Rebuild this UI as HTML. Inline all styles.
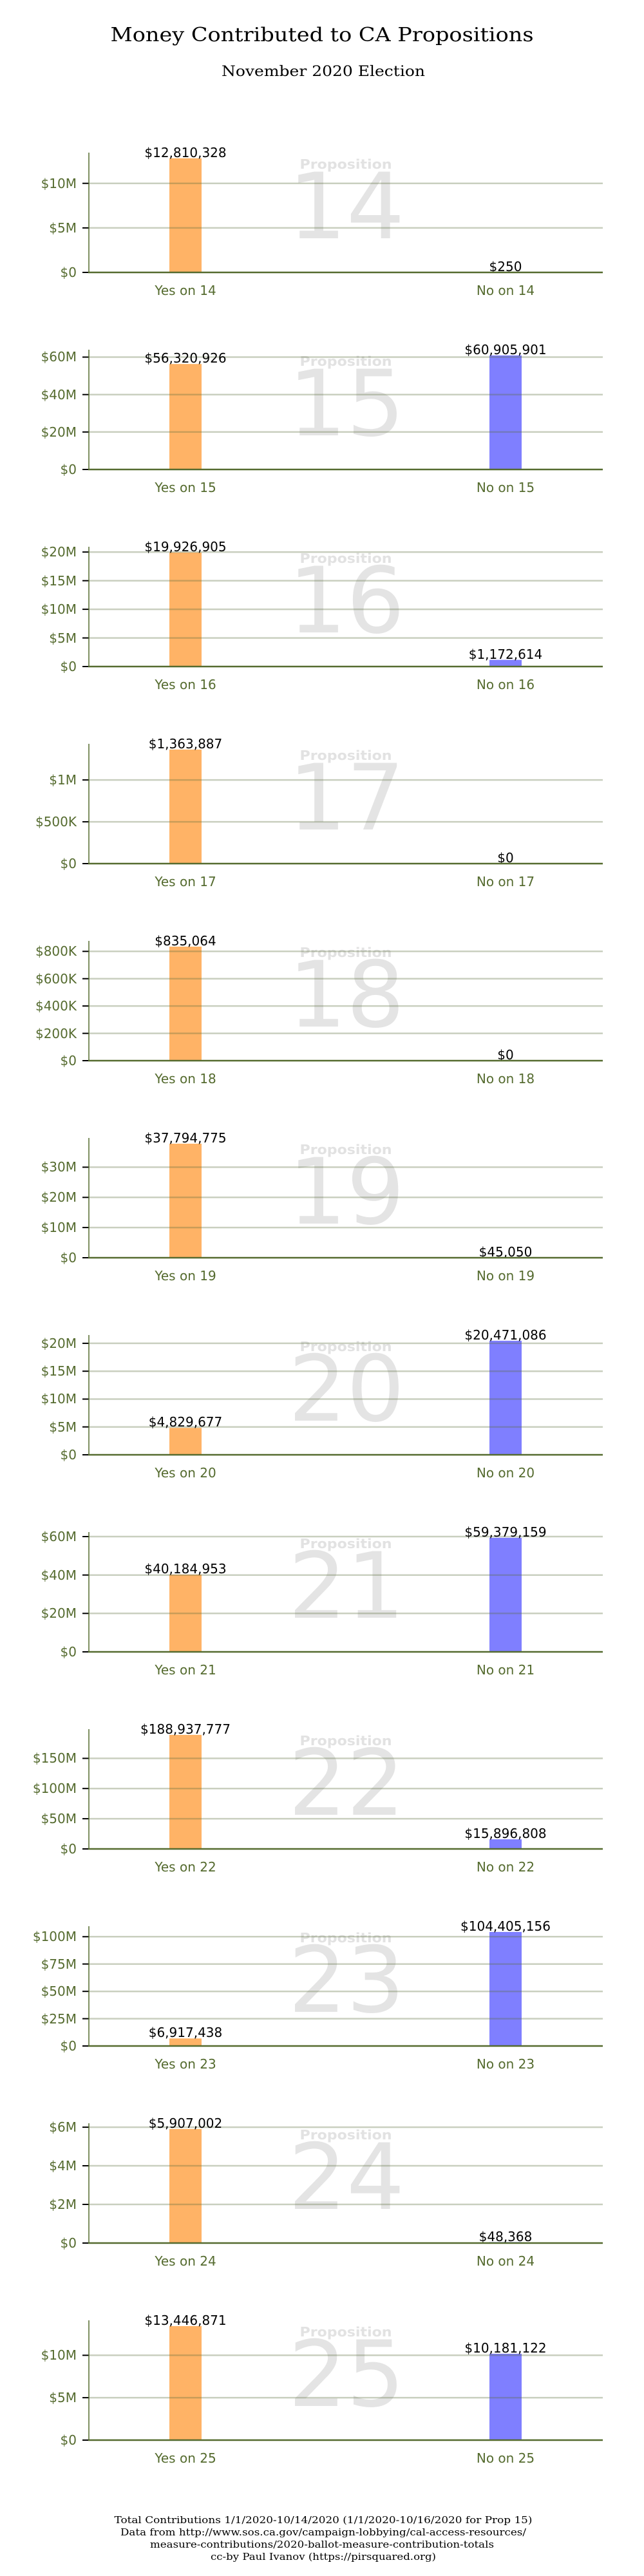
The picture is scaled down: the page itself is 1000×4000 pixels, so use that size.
<!DOCTYPE html>
<html><head><meta charset="utf-8"><style>
html,body{margin:0;padding:0;background:#fff}
svg{display:block}
.t{font-family:"DejaVu Sans","Liberation Sans",sans-serif}
.yl{font-size:20px;fill:#556b2f;text-anchor:end}
.xl{font-size:20px;fill:#556b2f;text-anchor:middle}
.vl{font-size:20px;fill:#000;text-anchor:middle}
.pp{font-size:20px;font-weight:bold;fill:#e2e2e2;text-anchor:middle}
.pn{font-size:142px;fill:#e4e4e4;text-anchor:middle}
.g{stroke:rgba(90,110,60,0.33);stroke-width:2.5}
.tk{stroke:#000;stroke-width:2}
.ax{stroke:#556b2f}
.y{fill:#ffb366}.n{fill:#7f7fff}
.s{font-family:"DejaVu Serif","Liberation Serif",serif;fill:#000;text-anchor:middle}
</style></head><body>
<svg width="1000" height="4000" viewBox="0 0 1000 4000" xmlns="http://www.w3.org/2000/svg">
<text class="s" x="500" y="64" font-size="30" textLength="657" lengthAdjust="spacingAndGlyphs">Money Contributed to CA Propositions</text>
<text class="s" x="502" y="118" font-size="22" textLength="316" lengthAdjust="spacingAndGlyphs">November 2020 Election</text>

<!-- panel template: translate(0,y0) -->
<g transform="translate(0,423)" class="t">
<text class="pp" x="537" y="-161" textLength="143" lengthAdjust="spacingAndGlyphs">Proposition</text>
<text class="pn" x="538" y="-53">14</text>
<rect class="y" x="263" y="-177.2" width="50" height="177.2"/>
<line class="g" x1="138" x2="936" y1="-69.1" y2="-69.1"/><line class="g" x1="138" x2="936" y1="-138.3" y2="-138.3"/>
<line class="tk" x1="128" x2="138" y1="0" y2="0"/><line class="tk" x1="128" x2="138" y1="-69.1" y2="-69.1"/><line class="tk" x1="128" x2="138" y1="-138.3" y2="-138.3"/>
<text class="yl" x="119" y="7">$0</text><text class="yl" x="119" y="-62">$5M</text><text class="yl" x="119" y="-131">$10M</text>
<text class="vl" x="288" y="-179">$12,810,328</text><text class="vl" x="785" y="-2">$250</text>
<line class="ax" x1="138" x2="138" y1="-186" y2="0" stroke-width="1.5"/><line class="ax" x1="137" x2="936" y1="0" y2="0" stroke-width="2.5"/>
<text class="xl" x="288" y="35">Yes on 14</text><text class="xl" x="785" y="35">No on 14</text>
</g>

<g transform="translate(0,729)" class="t">
<text class="pp" x="537" y="-161" textLength="143" lengthAdjust="spacingAndGlyphs">Proposition</text>
<text class="pn" x="538" y="-53">15</text>
<rect class="y" x="263" y="-163.8" width="50" height="163.8"/><rect class="n" x="760" y="-177.1" width="50" height="177.1"/>
<line class="g" x1="138" x2="936" y1="-58.2" y2="-58.2"/><line class="g" x1="138" x2="936" y1="-116.3" y2="-116.3"/><line class="g" x1="138" x2="936" y1="-174.5" y2="-174.5"/>
<line class="tk" x1="128" x2="138" y1="0" y2="0"/><line class="tk" x1="128" x2="138" y1="-58.2" y2="-58.2"/><line class="tk" x1="128" x2="138" y1="-116.3" y2="-116.3"/><line class="tk" x1="128" x2="138" y1="-174.5" y2="-174.5"/>
<text class="yl" x="119" y="7">$0</text><text class="yl" x="119" y="-51">$20M</text><text class="yl" x="119" y="-109">$40M</text><text class="yl" x="119" y="-168">$60M</text>
<text class="vl" x="288" y="-166">$56,320,926</text><text class="vl" x="785" y="-179">$60,905,901</text>
<line class="ax" x1="138" x2="138" y1="-186" y2="0" stroke-width="1.5"/><line class="ax" x1="137" x2="936" y1="0" y2="0" stroke-width="2.5"/>
<text class="xl" x="288" y="35">Yes on 15</text><text class="xl" x="785" y="35">No on 15</text>
</g>

<g transform="translate(0,1035)" class="t">
<text class="pp" x="537" y="-161" textLength="143" lengthAdjust="spacingAndGlyphs">Proposition</text>
<text class="pn" x="538" y="-53">16</text>
<rect class="y" x="263" y="-177.1" width="50" height="177.1"/><rect class="n" x="760" y="-10.4" width="50" height="10.4"/>
<line class="g" x1="138" x2="936" y1="-44.4" y2="-44.4"/><line class="g" x1="138" x2="936" y1="-88.9" y2="-88.9"/><line class="g" x1="138" x2="936" y1="-133.3" y2="-133.3"/><line class="g" x1="138" x2="936" y1="-177.8" y2="-177.8"/>
<line class="tk" x1="128" x2="138" y1="0" y2="0"/><line class="tk" x1="128" x2="138" y1="-44.4" y2="-44.4"/><line class="tk" x1="128" x2="138" y1="-88.9" y2="-88.9"/><line class="tk" x1="128" x2="138" y1="-133.3" y2="-133.3"/><line class="tk" x1="128" x2="138" y1="-177.8" y2="-177.8"/>
<text class="yl" x="119" y="7">$0</text><text class="yl" x="119" y="-37">$5M</text><text class="yl" x="119" y="-82">$10M</text><text class="yl" x="119" y="-126">$15M</text><text class="yl" x="119" y="-171">$20M</text>
<text class="vl" x="288" y="-179">$19,926,905</text><text class="vl" x="785" y="-12">$1,172,614</text>
<line class="ax" x1="138" x2="138" y1="-186" y2="0" stroke-width="1.5"/><line class="ax" x1="137" x2="936" y1="0" y2="0" stroke-width="2.5"/>
<text class="xl" x="288" y="35">Yes on 16</text><text class="xl" x="785" y="35">No on 16</text>
</g>

<g transform="translate(0,1341)" class="t">
<text class="pp" x="537" y="-161" textLength="143" lengthAdjust="spacingAndGlyphs">Proposition</text>
<text class="pn" x="538" y="-53">17</text>
<rect class="y" x="263" y="-177.1" width="50" height="177.1"/>
<line class="g" x1="138" x2="936" y1="-64.9" y2="-64.9"/><line class="g" x1="138" x2="936" y1="-129.9" y2="-129.9"/>
<line class="tk" x1="128" x2="138" y1="0" y2="0"/><line class="tk" x1="128" x2="138" y1="-64.9" y2="-64.9"/><line class="tk" x1="128" x2="138" y1="-129.9" y2="-129.9"/>
<text class="yl" x="119" y="7">$0</text><text class="yl" x="119" y="-58">$500K</text><text class="yl" x="119" y="-123">$1M</text>
<text class="vl" x="288" y="-179">$1,363,887</text><text class="vl" x="785" y="-2">$0</text>
<line class="ax" x1="138" x2="138" y1="-186" y2="0" stroke-width="1.5"/><line class="ax" x1="137" x2="936" y1="0" y2="0" stroke-width="2.5"/>
<text class="xl" x="288" y="35">Yes on 17</text><text class="xl" x="785" y="35">No on 17</text>
</g>

<g transform="translate(0,1647)" class="t">
<text class="pp" x="537" y="-161" textLength="143" lengthAdjust="spacingAndGlyphs">Proposition</text>
<text class="pn" x="538" y="-53">18</text>
<rect class="y" x="263" y="-177.1" width="50" height="177.1"/>
<line class="g" x1="138" x2="936" y1="-42.4" y2="-42.4"/><line class="g" x1="138" x2="936" y1="-84.9" y2="-84.9"/><line class="g" x1="138" x2="936" y1="-127.3" y2="-127.3"/><line class="g" x1="138" x2="936" y1="-169.7" y2="-169.7"/>
<line class="tk" x1="128" x2="138" y1="0" y2="0"/><line class="tk" x1="128" x2="138" y1="-42.4" y2="-42.4"/><line class="tk" x1="128" x2="138" y1="-84.9" y2="-84.9"/><line class="tk" x1="128" x2="138" y1="-127.3" y2="-127.3"/><line class="tk" x1="128" x2="138" y1="-169.7" y2="-169.7"/>
<text class="yl" x="119" y="7">$0</text><text class="yl" x="119" y="-35">$200K</text><text class="yl" x="119" y="-78">$400K</text><text class="yl" x="119" y="-120">$600K</text><text class="yl" x="119" y="-163">$800K</text>
<text class="vl" x="288" y="-179">$835,064</text><text class="vl" x="785" y="-2">$0</text>
<line class="ax" x1="138" x2="138" y1="-186" y2="0" stroke-width="1.5"/><line class="ax" x1="137" x2="936" y1="0" y2="0" stroke-width="2.5"/>
<text class="xl" x="288" y="35">Yes on 18</text><text class="xl" x="785" y="35">No on 18</text>
</g>

<g transform="translate(0,1953)" class="t">
<text class="pp" x="537" y="-161" textLength="143" lengthAdjust="spacingAndGlyphs">Proposition</text>
<text class="pn" x="538" y="-53">19</text>
<rect class="y" x="263" y="-177.1" width="50" height="177.1"/>
<line class="g" x1="138" x2="936" y1="-46.9" y2="-46.9"/><line class="g" x1="138" x2="936" y1="-93.7" y2="-93.7"/><line class="g" x1="138" x2="936" y1="-140.6" y2="-140.6"/>
<line class="tk" x1="128" x2="138" y1="0" y2="0"/><line class="tk" x1="128" x2="138" y1="-46.9" y2="-46.9"/><line class="tk" x1="128" x2="138" y1="-93.7" y2="-93.7"/><line class="tk" x1="128" x2="138" y1="-140.6" y2="-140.6"/>
<text class="yl" x="119" y="7">$0</text><text class="yl" x="119" y="-40">$10M</text><text class="yl" x="119" y="-87">$20M</text><text class="yl" x="119" y="-134">$30M</text>
<text class="vl" x="288" y="-179">$37,794,775</text><text class="vl" x="785" y="-2">$45,050</text>
<line class="ax" x1="138" x2="138" y1="-186" y2="0" stroke-width="1.5"/><line class="ax" x1="137" x2="936" y1="0" y2="0" stroke-width="2.5"/>
<text class="xl" x="288" y="35">Yes on 19</text><text class="xl" x="785" y="35">No on 19</text>
</g>

<g transform="translate(0,2259)" class="t">
<text class="pp" x="537" y="-161" textLength="143" lengthAdjust="spacingAndGlyphs">Proposition</text>
<text class="pn" x="538" y="-53">20</text>
<rect class="y" x="263" y="-41.8" width="50" height="41.8"/><rect class="n" x="760" y="-177.1" width="50" height="177.1"/>
<line class="g" x1="138" x2="936" y1="-43.3" y2="-43.3"/><line class="g" x1="138" x2="936" y1="-86.5" y2="-86.5"/><line class="g" x1="138" x2="936" y1="-129.8" y2="-129.8"/><line class="g" x1="138" x2="936" y1="-173.1" y2="-173.1"/>
<line class="tk" x1="128" x2="138" y1="0" y2="0"/><line class="tk" x1="128" x2="138" y1="-43.3" y2="-43.3"/><line class="tk" x1="128" x2="138" y1="-86.5" y2="-86.5"/><line class="tk" x1="128" x2="138" y1="-129.8" y2="-129.8"/><line class="tk" x1="128" x2="138" y1="-173.1" y2="-173.1"/>
<text class="yl" x="119" y="7">$0</text><text class="yl" x="119" y="-36">$5M</text><text class="yl" x="119" y="-80">$10M</text><text class="yl" x="119" y="-123">$15M</text><text class="yl" x="119" y="-166">$20M</text>
<text class="vl" x="288" y="-44">$4,829,677</text><text class="vl" x="785" y="-179">$20,471,086</text>
<line class="ax" x1="138" x2="138" y1="-186" y2="0" stroke-width="1.5"/><line class="ax" x1="137" x2="936" y1="0" y2="0" stroke-width="2.5"/>
<text class="xl" x="288" y="35">Yes on 20</text><text class="xl" x="785" y="35">No on 20</text>
</g>

<g transform="translate(0,2565)" class="t">
<text class="pp" x="537" y="-161" textLength="143" lengthAdjust="spacingAndGlyphs">Proposition</text>
<text class="pn" x="538" y="-53">21</text>
<rect class="y" x="263" y="-119.9" width="50" height="119.9"/><rect class="n" x="760" y="-177.1" width="50" height="177.1"/>
<line class="g" x1="138" x2="936" y1="-59.7" y2="-59.7"/><line class="g" x1="138" x2="936" y1="-119.3" y2="-119.3"/><line class="g" x1="138" x2="936" y1="-179" y2="-179"/>
<line class="tk" x1="128" x2="138" y1="0" y2="0"/><line class="tk" x1="128" x2="138" y1="-59.7" y2="-59.7"/><line class="tk" x1="128" x2="138" y1="-119.3" y2="-119.3"/><line class="tk" x1="128" x2="138" y1="-179" y2="-179"/>
<text class="yl" x="119" y="7">$0</text><text class="yl" x="119" y="-53">$20M</text><text class="yl" x="119" y="-112">$40M</text><text class="yl" x="119" y="-172">$60M</text>
<text class="vl" x="288" y="-122">$40,184,953</text><text class="vl" x="785" y="-179">$59,379,159</text>
<line class="ax" x1="138" x2="138" y1="-186" y2="0" stroke-width="1.5"/><line class="ax" x1="137" x2="936" y1="0" y2="0" stroke-width="2.5"/>
<text class="xl" x="288" y="35">Yes on 21</text><text class="xl" x="785" y="35">No on 21</text>
</g>

<g transform="translate(0,2871)" class="t">
<text class="pp" x="537" y="-161" textLength="143" lengthAdjust="spacingAndGlyphs">Proposition</text>
<text class="pn" x="538" y="-53">22</text>
<rect class="y" x="263" y="-177.1" width="50" height="177.1"/><rect class="n" x="760" y="-14.9" width="50" height="14.9"/>
<line class="g" x1="138" x2="936" y1="-46.9" y2="-46.9"/><line class="g" x1="138" x2="936" y1="-93.8" y2="-93.8"/><line class="g" x1="138" x2="936" y1="-140.6" y2="-140.6"/>
<line class="tk" x1="128" x2="138" y1="0" y2="0"/><line class="tk" x1="128" x2="138" y1="-46.9" y2="-46.9"/><line class="tk" x1="128" x2="138" y1="-93.8" y2="-93.8"/><line class="tk" x1="128" x2="138" y1="-140.6" y2="-140.6"/>
<text class="yl" x="119" y="7">$0</text><text class="yl" x="119" y="-40">$50M</text><text class="yl" x="119" y="-87">$100M</text><text class="yl" x="119" y="-134">$150M</text>
<text class="vl" x="288" y="-179">$188,937,777</text><text class="vl" x="785" y="-17">$15,896,808</text>
<line class="ax" x1="138" x2="138" y1="-186" y2="0" stroke-width="1.5"/><line class="ax" x1="137" x2="936" y1="0" y2="0" stroke-width="2.5"/>
<text class="xl" x="288" y="35">Yes on 22</text><text class="xl" x="785" y="35">No on 22</text>
</g>

<g transform="translate(0,3177)" class="t">
<text class="pp" x="537" y="-161" textLength="143" lengthAdjust="spacingAndGlyphs">Proposition</text>
<text class="pn" x="538" y="-53">23</text>
<rect class="y" x="263" y="-11.7" width="50" height="11.7"/><rect class="n" x="760" y="-177.1" width="50" height="177.1"/>
<line class="g" x1="138" x2="936" y1="-42.4" y2="-42.4"/><line class="g" x1="138" x2="936" y1="-84.8" y2="-84.8"/><line class="g" x1="138" x2="936" y1="-127.3" y2="-127.3"/><line class="g" x1="138" x2="936" y1="-169.7" y2="-169.7"/>
<line class="tk" x1="128" x2="138" y1="0" y2="0"/><line class="tk" x1="128" x2="138" y1="-42.4" y2="-42.4"/><line class="tk" x1="128" x2="138" y1="-84.8" y2="-84.8"/><line class="tk" x1="128" x2="138" y1="-127.3" y2="-127.3"/><line class="tk" x1="128" x2="138" y1="-169.7" y2="-169.7"/>
<text class="yl" x="119" y="7">$0</text><text class="yl" x="119" y="-35">$25M</text><text class="yl" x="119" y="-78">$50M</text><text class="yl" x="119" y="-120">$75M</text><text class="yl" x="119" y="-163">$100M</text>
<text class="vl" x="288" y="-14">$6,917,438</text><text class="vl" x="785" y="-179">$104,405,156</text>
<line class="ax" x1="138" x2="138" y1="-186" y2="0" stroke-width="1.5"/><line class="ax" x1="137" x2="936" y1="0" y2="0" stroke-width="2.5"/>
<text class="xl" x="288" y="35">Yes on 23</text><text class="xl" x="785" y="35">No on 23</text>
</g>

<g transform="translate(0,3483)" class="t">
<text class="pp" x="537" y="-161" textLength="143" lengthAdjust="spacingAndGlyphs">Proposition</text>
<text class="pn" x="538" y="-53">24</text>
<rect class="y" x="263" y="-177.1" width="50" height="177.1"/><rect class="n" x="760" y="-1.5" width="50" height="1.5"/>
<line class="g" x1="138" x2="936" y1="-60" y2="-60"/><line class="g" x1="138" x2="936" y1="-120" y2="-120"/><line class="g" x1="138" x2="936" y1="-179.9" y2="-179.9"/>
<line class="tk" x1="128" x2="138" y1="0" y2="0"/><line class="tk" x1="128" x2="138" y1="-60" y2="-60"/><line class="tk" x1="128" x2="138" y1="-120" y2="-120"/><line class="tk" x1="128" x2="138" y1="-179.9" y2="-179.9"/>
<text class="yl" x="119" y="7">$0</text><text class="yl" x="119" y="-53">$2M</text><text class="yl" x="119" y="-113">$4M</text><text class="yl" x="119" y="-173">$6M</text>
<text class="vl" x="288" y="-179">$5,907,002</text><text class="vl" x="785" y="-3">$48,368</text>
<line class="ax" x1="138" x2="138" y1="-186" y2="0" stroke-width="1.5"/><line class="ax" x1="137" x2="936" y1="0" y2="0" stroke-width="2.5"/>
<text class="xl" x="288" y="35">Yes on 24</text><text class="xl" x="785" y="35">No on 24</text>
</g>

<g transform="translate(0,3789)" class="t">
<text class="pp" x="537" y="-161" textLength="143" lengthAdjust="spacingAndGlyphs">Proposition</text>
<text class="pn" x="538" y="-53">25</text>
<rect class="y" x="263" y="-177.1" width="50" height="177.1"/><rect class="n" x="760" y="-134.1" width="50" height="134.1"/>
<line class="g" x1="138" x2="936" y1="-65.9" y2="-65.9"/><line class="g" x1="138" x2="936" y1="-131.7" y2="-131.7"/>
<line class="tk" x1="128" x2="138" y1="0" y2="0"/><line class="tk" x1="128" x2="138" y1="-65.9" y2="-65.9"/><line class="tk" x1="128" x2="138" y1="-131.7" y2="-131.7"/>
<text class="yl" x="119" y="7">$0</text><text class="yl" x="119" y="-59">$5M</text><text class="yl" x="119" y="-125">$10M</text>
<text class="vl" x="288" y="-179">$13,446,871</text><text class="vl" x="785" y="-136">$10,181,122</text>
<line class="ax" x1="138" x2="138" y1="-186" y2="0" stroke-width="1.5"/><line class="ax" x1="137" x2="936" y1="0" y2="0" stroke-width="2.5"/>
<text class="xl" x="288" y="35">Yes on 25</text><text class="xl" x="785" y="35">No on 25</text>
</g>

<text class="s" x="502" y="3918" font-size="15" textLength="649" lengthAdjust="spacingAndGlyphs">Total Contributions 1/1/2020-10/14/2020  (1/1/2020-10/16/2020 for Prop 15)</text>
<text class="s" x="502" y="3937" font-size="15" textLength="630" lengthAdjust="spacingAndGlyphs">Data from http://www.sos.ca.gov/campaign-lobbying/cal-access-resources/</text>
<text class="s" x="500" y="3956" font-size="15" textLength="534" lengthAdjust="spacingAndGlyphs">measure-contributions/2020-ballot-measure-contribution-totals</text>
<text class="s" x="502" y="3975" font-size="15" textLength="350" lengthAdjust="spacingAndGlyphs">cc-by Paul Ivanov (https://pirsquared.org)</text>
</svg>
</body></html>
